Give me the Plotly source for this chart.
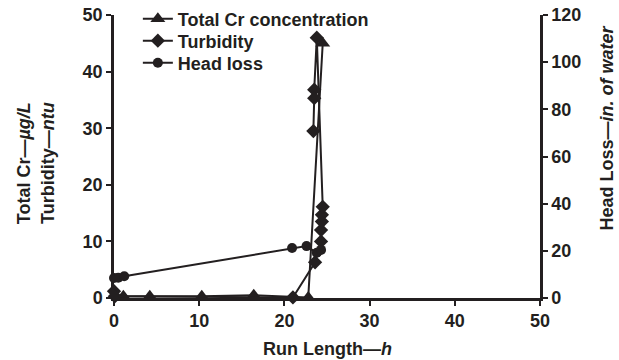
import plotly.graph_objects as go

# Total Cr concentration (left axis, µg/L)
cr_x = [1.1, 4.2, 10.3, 16.4, 22.8, 24.5]
cr_y = [0.3, 0.3, 0.3, 0.5, 0.1, 45.0]

# Turbidity (left axis, ntu)
turb_x = [0.0, 0.1, 21.0, 23.6, 24.3, 24.3, 24.4, 24.4, 24.5, 23.8, 23.5, 23.5, 23.4]
turb_y = [1.2, 0.3, 0.1, 6.3, 10.0, 12.0, 13.5, 14.7, 16.1, 46.0, 36.8, 35.3, 29.5]

# Head loss (right axis, in. of water)
hl_x = [0.0, 0.5, 1.2, 20.9, 22.6, 23.8, 24.3]
hl_y = [8.5, 8.6, 9.2, 21.2, 22.0, 19.2, 20.4]

x_ticks = [0, 10, 20, 30, 40, 50]
left_ticks = [0, 10, 20, 30, 40, 50]
right_ticks = [0, 20, 40, 60, 80, 100, 120]

FONT = "Liberation Sans, Arial, sans-serif"
BLACK = "#231f20"
FS = 18

fig = go.Figure()
fig.add_trace(go.Scatter(x=cr_x, y=cr_y, mode="lines+markers", name="<b>Total Cr concentration</b>",
                         line=dict(color=BLACK, width=2),
                         marker=dict(symbol="triangle-up", size=13, color=BLACK),
                         cliponaxis=False, legend="legend"))
fig.add_trace(go.Scatter(x=turb_x, y=turb_y, mode="lines+markers", name="<b>Turbidity</b>",
                         line=dict(color=BLACK, width=2),
                         marker=dict(symbol="diamond", size=11, color=BLACK),
                         cliponaxis=False, legend="legend2"))
fig.add_trace(go.Scatter(x=hl_x, y=hl_y, mode="lines+markers", name="<b>Head loss</b>",
                         line=dict(color=BLACK, width=2),
                         marker=dict(symbol="circle", size=10, color=BLACK),
                         cliponaxis=False, yaxis="y2", legend="legend3"))

axis_common = dict(showgrid=False, zeroline=False, showline=True, linecolor=BLACK, linewidth=2.5,
                   ticks="outside", ticklen=5, tickwidth=2, tickcolor=BLACK,
                   tickfont=dict(family=FONT, size=FS, color=BLACK))

def bold(vals):
    return ["<b>%d</b>" % v for v in vals]

def leg(y):
    return dict(x=0.056, y=y, xanchor="left", yanchor="top",
                font=dict(family=FONT, size=FS, color=BLACK),
                bgcolor="rgba(0,0,0,0)", itemwidth=30)

fig.update_layout(
    width=619, height=360,
    margin=dict(l=114, r=79, t=15, b=62, autoexpand=False),
    paper_bgcolor="white", plot_bgcolor="white",
    showlegend=True,
    legend=leg(1.051),
    legend2=leg(0.9735),
    legend3=leg(0.8958),
    xaxis=dict(range=[0, 50], tickvals=x_ticks, ticktext=bold(x_ticks), **axis_common),
    yaxis=dict(range=[0, 50], tickvals=left_ticks, ticktext=bold(left_ticks), **axis_common),
    yaxis2=dict(range=[0, 120], tickvals=right_ticks, ticktext=bold(right_ticks),
                overlaying="y", side="right", **axis_common),
    annotations=[
        dict(text="<b>Run Length—<i>h</i></b>", xref="paper", yref="paper", x=0.5, y=-0.18,
             xanchor="center", yanchor="middle", showarrow=False,
             font=dict(family=FONT, size=FS, color=BLACK)),
        dict(text="<b>Total Cr—<i>µg/L</i><br>Turbidity—<i>ntu</i></b>", xref="paper", yref="paper",
             x=-0.185, y=0.477, xanchor="center", yanchor="middle", textangle=-90, showarrow=False,
             font=dict(family=FONT, size=FS, color=BLACK)),
        dict(text="<b>Head Loss—<i>in. of water</i></b>", xref="paper", yref="paper",
             x=1.158, y=0.6, xanchor="center", yanchor="middle", textangle=-90, showarrow=False,
             font=dict(family=FONT, size=FS, color=BLACK)),
    ],
)

fig.write_html("out.html")
